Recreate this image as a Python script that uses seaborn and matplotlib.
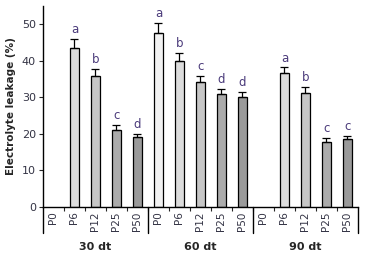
import matplotlib
matplotlib.use('Agg')
import matplotlib.pyplot as plt
import matplotlib.transforms as mtransforms
import numpy as np
import pandas as pd
import seaborn as sns

# Data
groups = ['30 dt', '60 dt', '90 dt']
treatments = ['P0', 'P6', 'P12', 'P25', 'P50']
leak_30 = [np.nan, 43.6, 35.8, 21.0, 19.2]
leak_60 = [47.5, 39.9, 34.1, 30.9, 30.0]
leak_90 = [np.nan, 36.6, 31.1, 17.7, 18.6]
err_30 = [np.nan, 2.5, 1.9, 1.4, 0.7]
err_60 = [2.8, 2.2, 1.7, 1.4, 1.4]
err_90 = [np.nan, 1.6, 1.7, 1.2, 0.8]
letters_30 = ['', 'a', 'b', 'c', 'd']
letters_60 = ['a', 'b', 'c', 'd', 'd']
letters_90 = ['', 'a', 'b', 'c', 'c']

bar_colors = ['#f2f2f2', '#dcdcdc', '#c6c6c6', '#ababab', '#9a9a9a']
letter_color = '#4a3a7a'

rows = []
for g, vals, errs, lets in zip(groups, [leak_30, leak_60, leak_90],
                                [err_30, err_60, err_90],
                                [letters_30, letters_60, letters_90]):
    for t, v, e, l in zip(treatments, vals, errs, lets):
        rows.append({'group': g, 'treat': t, 'slot': g + ' ' + t,
                     'value': v, 'err': e, 'letter': l})
df = pd.DataFrame(rows)

sns.set_style('white')
plt.rcParams['font.family'] = ['Liberation Sans Narrow', 'DejaVu Sans']

fig = plt.figure(figsize=(3.69, 2.64), dpi=100)
ax = fig.add_axes([0.1165, 0.216, 0.8535, 0.761])

sns.barplot(data=df, x='slot', y='value', hue='treat', order=list(df['slot']),
            hue_order=treatments, palette=bar_colors, dodge=False, width=0.45,
            edgecolor='black', linewidth=0.9, errorbar=None, legend=False, ax=ax)

pos = np.arange(len(df))
v = df['value'].to_numpy()
e = df['err'].to_numpy()
ax.errorbar(pos, v, yerr=[np.zeros_like(e), e], fmt='none', ecolor='black',
            elinewidth=0.9, capsize=3, capthick=0.9)
for x, val, er, lab in zip(pos, v, e, df['letter']):
    if lab:
        ax.text(x, val + er + 0.8, lab, ha='center', va='bottom',
                fontsize=8.5, color=letter_color)

ax.set_xlim(-0.5, len(df) - 0.5)
ax.set_ylim(0, 55)
ax.set_yticks([0, 10, 20, 30, 40, 50])
ax.tick_params(axis='y', labelsize=8, length=3, width=0.8, direction='out',
               left=True, pad=2, labelcolor='#333344')
ax.set_xticks(pos)
ax.set_xticklabels(df['treat'], rotation=90, fontsize=7.5, color='#333344')
ax.tick_params(axis='x', length=0, pad=3)
ax.set_xticks(pos[:-1] + 0.5, minor=True)
ax.tick_params(axis='x', which='minor', length=3, width=0.8, direction='out',
               bottom=True)
ax.set_xlabel('')
ax.set_ylabel('Electrolyte leakage (%)', fontsize=7.5, fontweight='bold',
              labelpad=4)

for s in ['top', 'right']:
    ax.spines[s].set_visible(False)
for s in ['left', 'bottom']:
    ax.spines[s].set_color('black')
    ax.spines[s].set_linewidth(1.0)

# group separators below the axis
trans = mtransforms.blended_transform_factory(ax.transData, ax.transAxes)
for xb in [-0.5, 4.5, 9.5, 14.5]:
    ax.plot([xb, xb], [0, -0.13], color='black', lw=1.0, transform=trans,
            clip_on=False)
for i, g in enumerate(groups):
    ax.text(i * 5 + 2, -0.2, g, transform=trans, ha='center', va='center',
            fontsize=8, fontweight='bold')

fig.savefig('out.png', dpi=100)
